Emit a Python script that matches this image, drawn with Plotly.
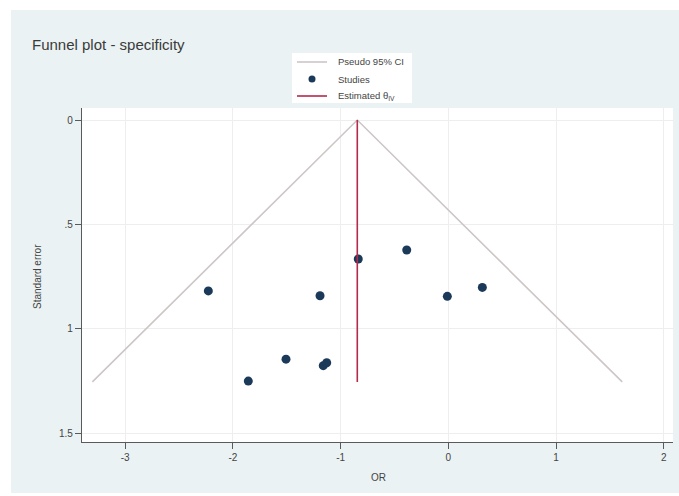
import plotly.graph_objects as go

# ---- data ----
study_or = [-2.228, -1.191, -1.507, -1.857, -1.161, -1.129, -0.836, -0.386, -0.009, 0.316]
study_se = [0.819, 0.842, 1.146, 1.251, 1.177, 1.163, 0.666, 0.623, 0.845, 0.802]
theta = -0.845          # estimated effect
se_max = 1.255          # funnel depth
z95 = 1.96

x_ticks = [-3, -2, -1, 0, 1, 2]
x_ticklabels = ["-3", "-2", "-1", "0", "1", "2"]
y_ticks = [0, 0.5, 1, 1.5]
y_ticklabels = ["0", ".5", "1", "1.5"]

legend_labels = ["Pseudo 95% CI", "Studies", "Estimated θ<sub>IV</sub>"]

W, H = 679, 496
ML, MR, MT, MB = 82, 6, 108, 54
PW, PH = W - ML - MR, H - MT - MB

BG = "#eaf2f3"
FONT = "Liberation Sans, Arial, sans-serif"
TXT = "#444444"
CI_COL = "#cdc6c6"
DOT_COL = "#1b3a5a"
EST_COL = "#b52a4d"

def px2x(px):
    return (px - ML) / PW

def py2y(py):
    return 1 - (py - MT) / PH

funnel_x = [theta - z95 * se_max, theta, theta + z95 * se_max]
funnel_y = [se_max, 0, se_max]

fig = go.Figure()
fig.add_trace(go.Scatter(x=funnel_x, y=funnel_y, mode="lines",
                         line=dict(color=CI_COL, width=1.6),
                         name=legend_labels[0]))
fig.add_trace(go.Scatter(x=study_or, y=study_se, mode="markers",
                         marker=dict(color=DOT_COL, size=9, line=dict(width=0)),
                         name=legend_labels[1]))
fig.add_trace(go.Scatter(x=[theta, theta], y=[0, se_max], mode="lines",
                         line=dict(color=EST_COL, width=1.6),
                         name=legend_labels[2]))

x0 = -(448.3 - ML) / 107.7
x1 = x0 + PW / 107.7
y0 = -(120 - MT) / 208.7
y1 = y0 + PH / 208.7

# manual legend (box, samples, labels)
LX0, LX1, LY0, LY1 = 292, 412, 53, 103
rows = [62, 79, 96]
shapes = [
    dict(type="rect", xref="paper", yref="paper", x0=px2x(0), x1=px2x(11),
         y0=py2y(H), y1=py2y(0), fillcolor="white", line=dict(width=0), layer="above"),
    dict(type="rect", xref="paper", yref="paper", x0=px2x(0), x1=px2x(W),
         y0=py2y(10), y1=py2y(0), fillcolor="white", line=dict(width=0), layer="above"),
    dict(type="rect", xref="paper", yref="paper", x0=px2x(0), x1=px2x(W),
         y0=py2y(H), y1=py2y(493), fillcolor="white", line=dict(width=0), layer="above"),
    dict(type="rect", xref="paper", yref="paper", x0=px2x(LX0), x1=px2x(LX1),
         y0=py2y(LY1), y1=py2y(LY0), fillcolor="white", line=dict(width=0), layer="above"),
    dict(type="line", xref="paper", yref="paper", x0=px2x(297), x1=px2x(327),
         y0=py2y(rows[0]), y1=py2y(rows[0]), line=dict(color=CI_COL, width=1.6), layer="above"),
    dict(type="circle", xref="paper", yref="paper", x0=px2x(308.5), x1=px2x(315.5),
         y0=py2y(rows[1] + 3.5), y1=py2y(rows[1] - 3.5), fillcolor=DOT_COL,
         line=dict(width=0), layer="above"),
    dict(type="line", xref="paper", yref="paper", x0=px2x(297), x1=px2x(327),
         y0=py2y(rows[2]), y1=py2y(rows[2]), line=dict(color=EST_COL, width=1.6), layer="above"),
]

annotations = [
    dict(text="OR", x=px2x(378), y=py2y(477), xref="paper", yref="paper",
         showarrow=False, xanchor="center", yanchor="middle",
         font=dict(size=10, color=TXT)),
    dict(text="Standard error", x=px2x(37), y=py2y(276), xref="paper", yref="paper",
         showarrow=False, xanchor="center", yanchor="middle", textangle=-90,
         font=dict(size=10, color=TXT)),
]
for lab, ry in zip(legend_labels, rows):
    annotations.append(dict(text=lab, x=px2x(336), y=py2y(ry), xref="paper", yref="paper",
                            showarrow=False, xanchor="left", yanchor="middle",
                            font=dict(size=9.5, color=TXT)))

fig.update_layout(
    width=W, height=H,
    margin=dict(l=ML, r=MR, t=MT, b=MB, pad=0),
    paper_bgcolor=BG, plot_bgcolor="white",
    font=dict(family=FONT, color=TXT, size=10),
    title=dict(text="Funnel plot - specificity", x=32 / W, y=1 - 45 / H,
               xref="container", yref="container", xanchor="left", yanchor="middle",
               font=dict(size=15, color="#3a3a3a", family=FONT)),
    showlegend=False,
    xaxis=dict(range=[x0, x1], tickmode="array", tickvals=x_ticks, ticktext=x_ticklabels,
               showgrid=True, gridcolor="#eeeeee", gridwidth=1, zeroline=False,
               showline=True, linecolor="#5a5a5a", linewidth=1.2,
               ticks="outside", ticklen=6, tickcolor="#5a5a5a", tickwidth=1,
               tickfont=dict(size=10, color=TXT)),
    yaxis=dict(range=[y1, y0], tickmode="array", tickvals=y_ticks, ticktext=y_ticklabels,
               showgrid=True, gridcolor="#eeeeee", gridwidth=1, zeroline=False,
               showline=True, linecolor="#5a5a5a", linewidth=1.2,
               ticks="outside", ticklen=6, tickcolor="#5a5a5a", tickwidth=1,
               tickfont=dict(size=10, color=TXT)),
    annotations=annotations,
    shapes=shapes,
)

fig.write_html("out.html")
